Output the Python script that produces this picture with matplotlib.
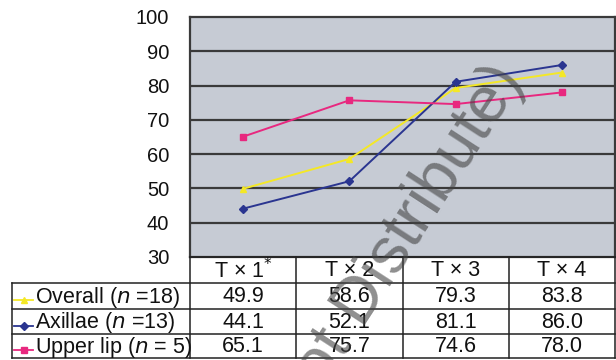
import matplotlib
matplotlib.use("Agg")
import matplotlib.pyplot as plt
from matplotlib.lines import Line2D

plt.rcParams['font.family'] = ['Liberation Sans', 'DejaVu Sans']

# Treatment sessions and mean improvement (%) per site
categories = ["T \u00d7 1$^{*}$", "T \u00d7 2", "T \u00d7 3", "T \u00d7 4"]
series_names = ["Overall (", "Axillae (", "Upper lip ("]
series_n = ["=18)", "=13)", "= 5)"]
overall = [49.9, 58.6, 79.3, 83.8]
axillae = [44.1, 52.1, 81.1, 86.0]
upper_lip = [65.1, 75.7, 74.6, 78.0]
yticks = [30, 40, 50, 60, 70, 80, 90, 100]

series = [overall, axillae, upper_lip]
colors = ["#f4e826", "#2a3590", "#e8287f"]
markers = ["^", "D", "s"]
msizes = [5, 3.6, 4.6]

W, H = 616, 360
fig = plt.figure(figsize=(W / 100, H / 100), dpi=100)

# plot area geometry in pixels
px0, px1, py0, py1 = 190, 615, 17, 257
ax = fig.add_axes([px0 / W, 1 - py1 / H, (px1 - px0) / W, (py1 - py0) / H])
ax.set_facecolor("#c6cbd4")
ax.set_xlim(-0.5, len(categories) - 0.5)
ax.set_ylim(30, 100)
for y in yticks[1:-1]:
    ax.axhline(y, color="#3a3a3a", lw=1.6, zorder=1)
for s, c, m, ms in zip(series, colors, markers, msizes):
    ax.plot(range(len(s)), s, color=c, lw=1.4, marker=m, ms=ms, zorder=3)
ax.set_xticks([])
ax.set_yticks(yticks)
ax.set_yticklabels([str(v) for v in yticks], fontsize=14.5, color="#111111")
ax.tick_params(axis="y", length=0, pad=15)
for sp in ax.spines.values():
    sp.set_color("#3a3a3a")
    sp.set_linewidth(1.6)

# data table below the plot, drawn in pixel coordinates
tb = fig.add_axes([0, 0, 1, 1], zorder=5)
tb.set_xlim(0, W)
tb.set_ylim(H, 0)
tb.axis("off")
tb.patch.set_alpha(0)

col_edges = [px0 + i * (px1 - px0) / len(categories) for i in range(len(categories) + 1)]
row_edges = [257, 283, 309, 334, 358]
label_x0 = 12
lc = "#222222"
lw = 1.1

for x in col_edges:
    tb.plot([x, x], [row_edges[0], row_edges[-1]], color=lc, lw=lw)
tb.plot([label_x0, label_x0], [row_edges[1], row_edges[-1]], color=lc, lw=lw)
for y in row_edges[1:]:
    tb.plot([label_x0, px1], [y, y], color=lc, lw=lw)
tb.plot([px0, px1], [row_edges[0], row_edges[0]], color=lc, lw=lw)

fs = 15.5
for j, cat in enumerate(categories):
    xc = (col_edges[j] + col_edges[j + 1]) / 2
    tb.text(xc, (row_edges[0] + row_edges[1]) / 2 + 1, cat, ha="center",
            va="center", fontsize=fs, color="#111111")

for i, (s, c, m, name, n) in enumerate(zip(series, colors, markers, series_names, series_n)):
    yc = (row_edges[i + 1] + row_edges[i + 2]) / 2 + 1
    tb.add_line(Line2D([14, 33], [yc + 3, yc + 3], color=c, lw=1.3))
    tb.plot([23.5], [yc + 3], marker=m, color=c, ms=4)
    tb.text(35, yc, name + "$\\it{n}$ " + n, ha="left", va="center",
            fontsize=fs, color="#111111")
    for j, v in enumerate(s):
        xc = (col_edges[j] + col_edges[j + 1]) / 2
        tb.text(xc, yc, f"{v:.1f}", ha="center", va="center", fontsize=fs,
                color="#111111")

# watermark
tb.text(323, 390, "ot Distribute)", rotation=57, rotation_mode="anchor",
        ha="left", va="baseline", fontsize=47, color="#444444", alpha=0.6,
        zorder=10)

fig.savefig("out.png", dpi=100)
